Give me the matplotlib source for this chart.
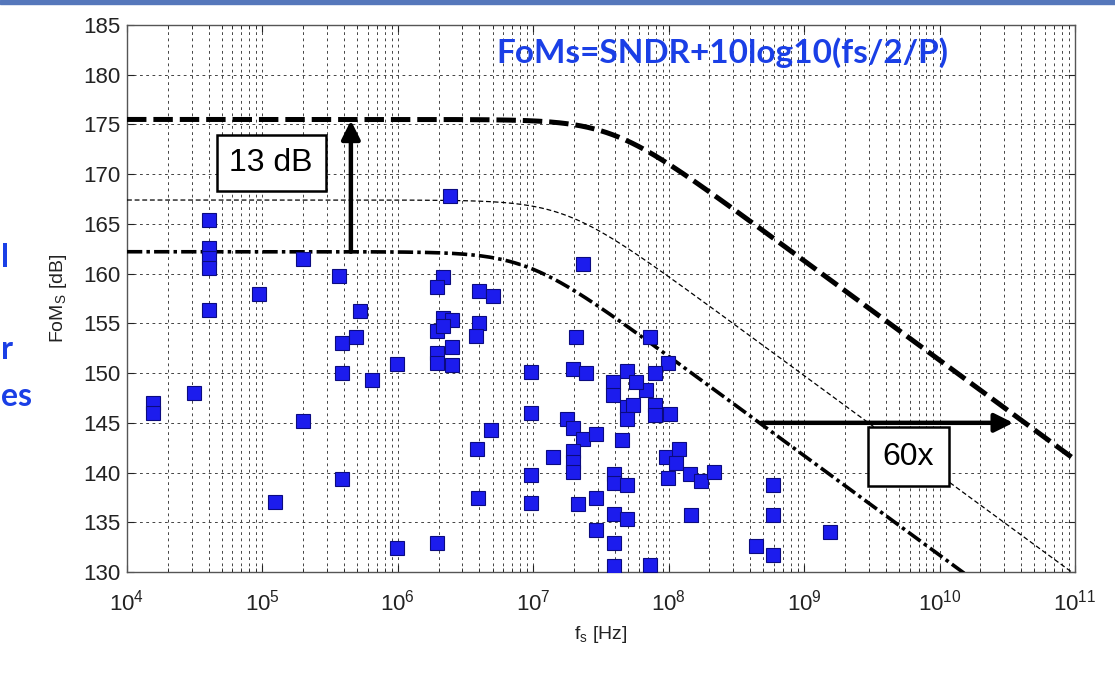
import numpy as np
import matplotlib
matplotlib.use('Agg')
import matplotlib.pyplot as plt
from matplotlib.ticker import LogLocator, NullFormatter, FixedLocator
from matplotlib.patches import Rectangle

plt.rcParams['font.family'] = ['Liberation Sans', 'DejaVu Sans']
plt.rcParams['mathtext.fontset'] = 'custom'
plt.rcParams['mathtext.rm'] = 'Liberation Sans'
plt.rcParams['mathtext.it'] = 'Liberation Sans:italic'
plt.rcParams['mathtext.default'] = 'regular'
plt.rcParams['lines.scale_dashes'] = False

# ---- data ----
fs_hz = [1.56e4, 1.56e4, 3.1e4,
         4e4, 4e4, 4e4, 4e4, 4e4,
         9.5e4, 1.24e5, 2e5, 2e5, 3.7e5,
         3.9e5, 3.9e5, 3.9e5, 4.9e5, 5.25e5, 6.46e5, 9.8e5, 9.8e5,
         2.42e6, 2.14e6, 1.96e6, 3.96e6, 5e6,
         2.14e6, 2.49e6, 1.93e6, 2.14e6,
         2.49e6, 1.96e6, 1.96e6, 2.49e6,
         3.96e6, 3.77e6,
         9.7e6, 9.7e6, 9.7e6, 9.7e6,
         4.91e6, 3.81e6, 3.92e6, 1.96e6,
         2.33e7, 2.06e7, 1.95e7, 2.44e7,
         1.76e7, 1.95e7, 2.33e7, 2.92e7, 1.39e7,
         1.95e7, 1.95e7, 1.95e7,
         2.14e7, 2.92e7, 2.92e7,
         7.24e7, 4.88e7, 9.9e7, 7.89e7,
         3.88e7, 3.88e7, 6.76e7, 5.75e7,
         4.92e7, 5.46e7, 4.92e7,
         7.89e7, 7.89e7, 1.02e8, 4.5e7,
         9.6e7, 1.2e8, 1.14e8, 9.8e7, 1.43e8, 1.74e8, 2.16e8,
         3.93e7, 3.93e7, 4.92e7,
         3.93e7, 4.92e7, 3.93e7, 3.93e7, 7.24e7,
         1.45e8,
         5.9e8, 5.9e8, 4.4e8, 5.9e8, 1.56e9]
foms_db = [147.0, 146.0, 148.0,
           165.4, 162.6, 161.6, 160.6, 156.3,
           158.0, 137.0, 161.5, 145.2, 159.8,
           153.0, 150.0, 139.4, 153.6, 156.2, 149.3, 150.9, 132.4,
           167.8, 159.7, 158.7, 158.3, 157.8,
           155.5, 155.3, 154.2, 154.7,
           152.6, 152.0, 151.0, 150.8,
           155.0, 153.7,
           150.1, 146.0, 139.8, 136.9,
           144.3, 142.4, 137.4, 132.9,
           161.0, 153.6, 150.4, 150.0,
           145.4, 144.5, 143.4, 143.9, 141.6,
           142.2, 141.1, 140.1,
           136.8, 137.4, 134.2,
           153.6, 150.2, 151.0, 150.0,
           149.1, 147.8, 148.3, 149.1,
           146.6, 146.8, 145.4,
           146.8, 145.8, 145.9, 143.3,
           141.6, 142.4, 141.0, 139.5, 139.9, 139.2, 140.1,
           139.9, 139.0, 138.7,
           135.8, 135.3, 132.9, 130.6, 130.7,
           135.7,
           138.7, 135.7, 132.6, 131.7, 134.0]

# envelope curves: peak FoM and corner frequency
env_peak_db = [175.5, 167.4, 162.2]
env_corner_hz = [10 ** 7.58, 10 ** 7.235, 10 ** 6.95]

xticks = [1e4, 1e5, 1e6, 1e7, 1e8, 1e9, 1e10, 1e11]
yticks = [130, 135, 140, 145, 150, 155, 160, 165, 170, 175, 180, 185]

title_text = 'FoMs=SNDR+10log10(fs/2/P)'
label_13db = '13 dB'
label_60x = '60x'
arrow13_x = 4.5e5
arrow13_y = (162.2, 175.4)
arrow60_y = 145.0
arrow60_x = (4.86e8, 3.5e10)
box13_pos = (1.16e5, 171.1)
box60_pos = (5.9e9, 141.6)

blue_text = '#1a3fe6'

fig = plt.figure(figsize=(11.15, 6.78), dpi=100)
ax = fig.add_axes([0.1139, 0.1563, 0.8502, 0.8069])

f = np.logspace(4, 11, 600)
styles = [
    dict(color='k', lw=3.6, dashes=(14, 5)),
    dict(color='k', lw=0.9, dashes=(3.5, 2)),
    dict(color='k', lw=2.6, dashes=(11, 3, 2.5, 3)),
]
for F0, fc, st in zip(env_peak_db, env_corner_hz, styles):
    ax.plot(f, F0 - 5 * np.log10(1 + (f / fc) ** 2), **st, zorder=3)

ax.plot(fs_hz, foms_db, 's', ms=10.6, mfc='#1c1ced', mec='#0b0b80', mew=0.8,
        linestyle='none', zorder=4)

ax.set_xscale('log')
ax.set_xlim(1e4, 1e11)
ax.set_ylim(130, 185)
ax.xaxis.set_major_locator(FixedLocator(xticks))
ax.xaxis.set_minor_locator(LogLocator(base=10, subs=np.arange(2, 10), numticks=20))
ax.xaxis.set_minor_formatter(NullFormatter())
ax.set_yticks(yticks)

ax.grid(True, which='major', axis='both', color='#444444', lw=0.7, ls=(0, (2, 2.5)))
ax.grid(True, which='minor', axis='x', color='#444444', lw=0.7, ls=(0, (2, 2.5)))
ax.tick_params(which='both', direction='in', top=True, right=True,
               labelsize=16, colors='#222222')
ax.tick_params(which='major', length=5)
ax.tick_params(axis='y', which='major', pad=5)
ax.tick_params(axis='x', which='major', pad=13)
ax.tick_params(which='minor', length=3)
for s in ax.spines.values():
    s.set_color('#555555')
    s.set_linewidth(1.0)

ax.set_xlabel('f$_s$ [Hz]', fontsize=14, labelpad=6, color='#222222')
ax.set_ylabel('FoM$_S$ [dB]', fontsize=14, labelpad=10, color='#222222')

# annotations
ax.annotate('', xy=(arrow13_x, arrow13_y[1]), xytext=(arrow13_x, arrow13_y[0]),
            arrowprops=dict(arrowstyle='-|>', lw=3.2, color='k', mutation_scale=28,
                            shrinkA=0, shrinkB=0), zorder=5)
ax.annotate('', xy=(arrow60_x[1], arrow60_y), xytext=(arrow60_x[0], arrow60_y),
            arrowprops=dict(arrowstyle='-|>', lw=3.2, color='k', mutation_scale=28,
                            shrinkA=0, shrinkB=0), zorder=5)
ax.text(*box13_pos, label_13db, fontsize=23, ha='center', va='center', zorder=6,
        bbox=dict(boxstyle='square,pad=0.4', fc='white', ec='black', lw=1.8))
ax.text(*box60_pos, label_60x, fontsize=23, ha='center', va='center', zorder=6,
        bbox=dict(boxstyle='square,pad=0.45', fc='white', ec='black', lw=1.8))

fig.text(0.648, 0.922, title_text, ha='center', va='center', fontsize=24,
         fontweight='bold', family=['Lato', 'DejaVu Sans'], color=blue_text)

# slide text fragments at the left edge
fig.text(0.001, 1 - 258 / 678, 'l', ha='left', va='center', fontsize=23,
         fontweight='bold', family=['Lato', 'DejaVu Sans'], color=blue_text)
fig.text(0.001, 1 - 350 / 678, 'r', ha='left', va='center', fontsize=23,
         fontweight='bold', family=['Lato', 'DejaVu Sans'], color=blue_text)
fig.text(0.001, 1 - 397 / 678, 'es', ha='left', va='center', fontsize=23,
         fontweight='bold', family=['Lato', 'DejaVu Sans'], color=blue_text)

# top slide bar
fig.patches.append(Rectangle((0, 1 - 4 / 678), 1, 4 / 678, transform=fig.transFigure,
                             color='#5577bb', zorder=0))

fig.savefig('out.png', dpi=100)
